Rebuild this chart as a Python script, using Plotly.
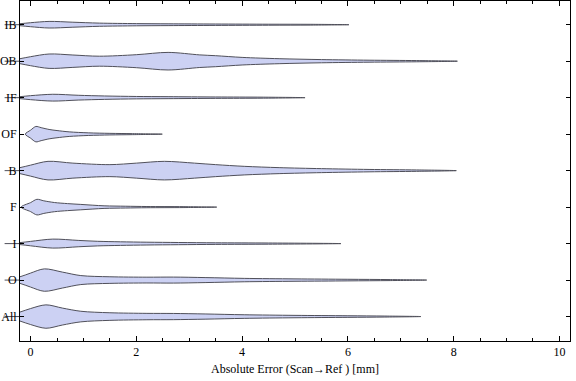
import plotly.graph_objects as go

# Categories, top to bottom as drawn
categories = ["IB", "OB", "IF", "OF", "B", "F", "I", "O", "All"]

# Violin profiles: x position [mm] and half-width (pixels at 36.5 px per category)
IB_x = [-0.45, -0.2, 0.0, 0.35, 0.8, 1.3, 2.0, 2.6, 3.5, 4.5, 5.3, 6.02]
IB_w = [0.2, 1.0, 2.0, 3.3, 2.5, 1.6, 1.1, 0.9, 0.7, 0.5, 0.4, 0.0]

OB_x = [-0.45, -0.2, 0.0, 0.35, 0.8, 1.3, 2.0, 2.6, 3.2, 3.5, 4.0, 4.7, 5.5, 6.4, 7.3, 8.07]
OB_w = [0.3, 2.5, 4.5, 7.2, 6.2, 5.0, 6.5, 8.8, 6.3, 5.5, 3.8, 2.5, 1.6, 1.0, 0.6, 0.0]

IF_x = [-0.45, -0.2, 0.0, 0.42, 0.9, 1.4, 2.0, 2.6, 3.5, 4.4, 5.19]
IF_w = [0.2, 1.0, 2.0, 3.4, 2.4, 1.7, 1.2, 1.0, 0.7, 0.5, 0.0]

OF_x = [-0.1, 0.0, 0.1, 0.2, 0.35, 0.5, 0.73, 1.1, 1.5, 1.93, 2.49]
OF_w = [0.0, 4.0, 7.7, 6.5, 4.7, 3.6, 2.3, 1.3, 0.8, 0.5, 0.0]

B_x = [-0.45, -0.2, 0.0, 0.33, 0.8, 1.5, 2.0, 2.53, 3.1, 3.5, 4.04, 4.7, 5.5, 6.4, 7.3, 8.05]
B_w = [0.5, 3.0, 5.5, 9.3, 7.5, 6.0, 7.5, 9.3, 7.5, 6.0, 4.3, 3.0, 2.0, 1.2, 0.7, 0.0]

F_x = [-0.18, 0.0, 0.12, 0.25, 0.45, 0.7, 0.95, 1.39, 1.8, 2.2, 2.9, 3.52]
F_w = [0.0, 4.5, 7.8, 6.3, 4.6, 3.5, 2.7, 1.3, 0.9, 0.6, 0.45, 0.0]

I_x = [-0.45, -0.2, 0.0, 0.42, 0.9, 1.27, 1.7, 2.2, 2.8, 3.5, 4.5, 5.87]
I_w = [0.2, 1.0, 2.2, 4.5, 3.2, 2.3, 1.8, 1.4, 1.1, 0.8, 0.6, 0.0]

O_x = [-0.45, -0.2, 0.0, 0.26, 0.6, 0.95, 1.5, 2.2, 2.7, 3.3, 4.04, 5.0, 6.0, 6.8, 7.49]
O_w = [0.5, 3.3, 7.0, 11.2, 8.0, 4.5, 3.3, 2.9, 3.0, 2.5, 1.7, 1.2, 0.8, 0.5, 0.0]

All_x = [-0.45, -0.2, 0.0, 0.29, 0.6, 0.95, 1.5, 2.2, 2.7, 3.3, 4.04, 5.0, 6.0, 6.7, 7.38]
All_w = [0.7, 4.5, 8.0, 11.7, 8.5, 5.3, 3.8, 3.2, 3.1, 2.6, 1.8, 1.2, 0.8, 0.5, 0.0]

profiles = [(IB_x, IB_w), (OB_x, OB_w), (IF_x, IF_w), (OF_x, OF_w), (B_x, B_w),
            (F_x, F_w), (I_x, I_w), (O_x, O_w), (All_x, All_w)]

x_ticks = [0, 2, 4, 6, 8, 10]
x_title = "Absolute Error (Scan→Ref ) [mm]"

PX_PER_CAT = 36.5
FILL = "rgb(204,209,243)"
EDGE = "rgb(80,80,90)"
FONT = "Liberation Serif"
X_MIN, X_MAX = -0.2, 10.2

n = len(categories)
positions = [n - i for i in range(n)]  # IB at top

fig = go.Figure()
shapes = []
for cat, pos, (xs, ws) in zip(categories, positions, profiles):
    hw = [w / PX_PER_CAT for w in ws]
    top = [pos + h for h in hw]
    bot = [pos - h for h in hw]
    px = list(xs) + list(xs[-2::-1])
    py = top + bot[-2::-1]
    fig.add_trace(go.Scatter(
        x=px, y=py, mode="lines", fill="toself", fillcolor=FILL,
        line=dict(color=EDGE, width=1, shape="spline", smoothing=0.9),
        hoverinfo="skip", showlegend=False, name=cat))
    if xs[0] < X_MIN:
        shapes.append(dict(type="line", xref="paper", yref="y",
                           x0=-0.028, x1=0.0, y0=pos, y1=pos,
                           line=dict(color=EDGE, width=1), layer="below"))

fig.update_layout(
    width=576, height=381,
    margin=dict(l=20, r=6, t=1, b=40),
    paper_bgcolor="white", plot_bgcolor="white",
    font=dict(family=FONT, size=12, color="black"),
    shapes=shapes,
    xaxis=dict(range=[X_MIN, X_MAX], tickvals=x_ticks, automargin=False,
               ticks="inside", ticklen=5, tickwidth=1, tickcolor="black",
               minor=dict(dtick=0.5, tick0=0, ticks="inside", ticklen=3,
                          tickcolor="black", tickwidth=1),
               showline=True, linecolor="black", linewidth=1, mirror="ticks",
               showgrid=False, zeroline=False,
               tickfont=dict(family=FONT, size=12),
               title=dict(text=x_title, standoff=6,
                          font=dict(family=FONT, size=12))),
    yaxis=dict(range=[0.33, 9.65], tickvals=positions, ticktext=categories,
               automargin=False,
               ticks="inside", ticklen=4, tickwidth=1, tickcolor="black",
               showline=True, linecolor="black", linewidth=1, mirror="ticks",
               showgrid=False, zeroline=False, ticklabelstandoff=0,
               tickfont=dict(family=FONT, size=12)),
)

fig.write_html("out.html", config={"displayModeBar": False},
               post_script="document.body.style.margin='0px';document.body.style.padding='0px';")
